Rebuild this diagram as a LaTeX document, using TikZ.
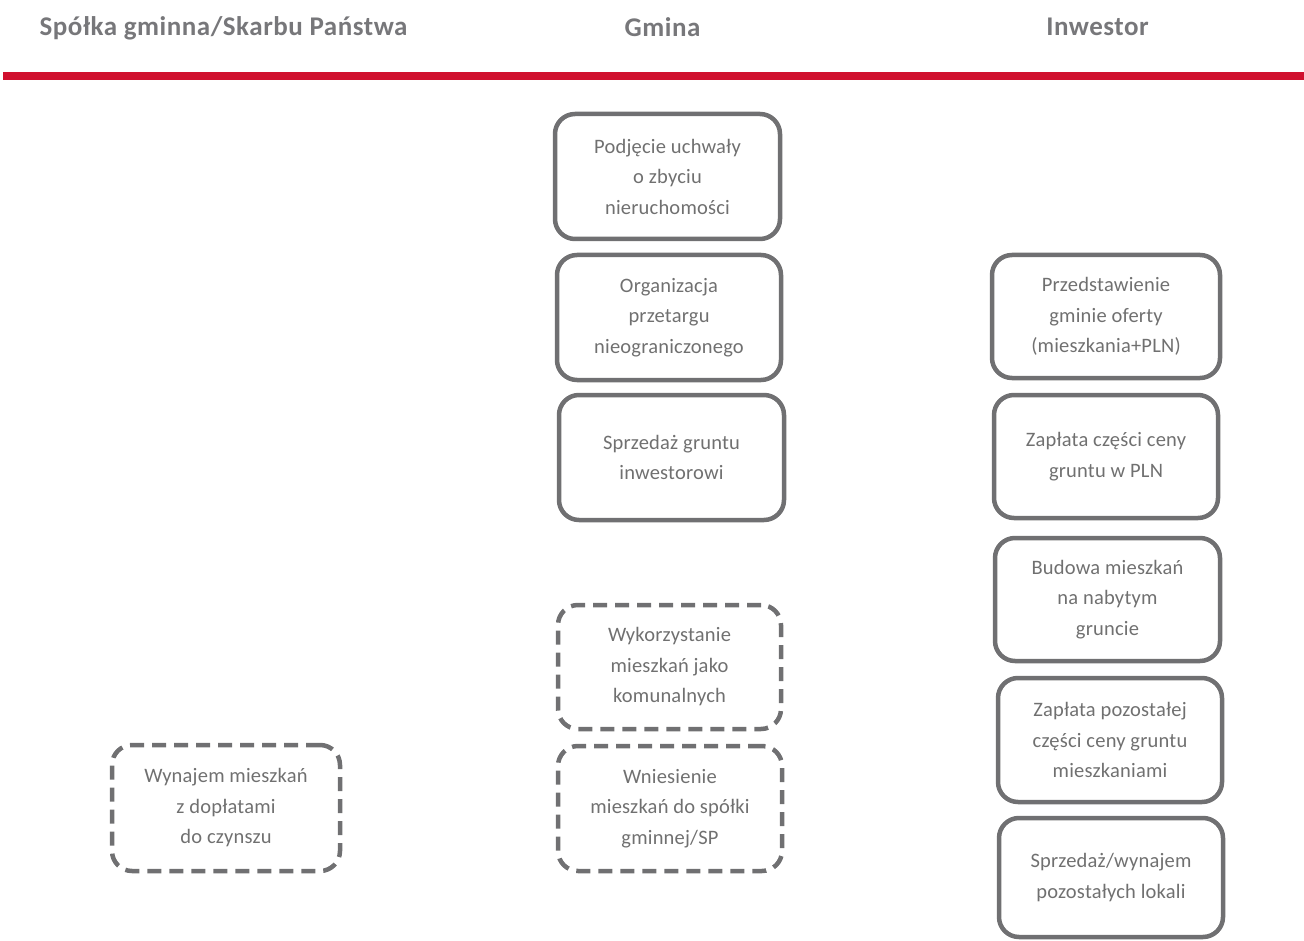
\documentclass[tikz,border=0pt]{standalone}
\usepackage{fontspec}
\setmainfont{Carlito}
\newfontfamily\hdrfont[LetterSpace=2]{Carlito}
\newfontfamily\bodyfont[LetterSpace=1]{Carlito}
\definecolor{hdrgray}{HTML}{77777A}
\definecolor{txtgray}{HTML}{707070}
\definecolor{bordergray}{HTML}{707072}
\definecolor{barred}{HTML}{D0102E}
\tikzset{
  hdr/.style={font=\hdrfont\bfseries\fontsize{27}{30}\selectfont, text=hdrgray, anchor=center, inner sep=0pt},
  stepbox/.style={draw=bordergray, line width=4.5pt, rounded corners=20pt, align=center,
    font=\bodyfont\fontsize{20.5}{30.5}\selectfont, text=txtgray, inner sep=0pt},
  dashbox/.style={stepbox, dash pattern=on 14pt off 8pt},
}
\begin{document}
\begin{tikzpicture}[x=1pt,y=-1pt]
\useasboundingbox (0,0) rectangle (1304,941);
% headers
\node[hdr] (h1) at (223.5,28) {Spółka gminna/Skarbu Państwa};
\node[hdr] (h2) at (662.5,27) {Gmina};
\node[hdr] (h3) at (1097.5,27) {Inwestor};
\coordinate (barL) at (3,76);
\coordinate (barR) at (1304,76);
\draw[barred, line width=8pt] (barL) -- (barR);
% Gmina column
\node[stepbox, minimum width=225pt, minimum height=125pt] (g1) at (667.5,176.5) {Podjęcie uchwały\\o zbyciu\\nieruchomości};
\node[stepbox, minimum width=224pt, minimum height=125pt] (g2) at (669,317.5) {Organizacja\\przetargu\\nieograniczonego};
\node[stepbox, minimum width=225pt, minimum height=125pt] (g3) at (671.5,457.5) {Sprzedaż gruntu\\inwestorowi};
\node[dashbox, minimum width=223pt, minimum height=124pt] (g4) at (669.5,667) {Wykorzystanie\\mieszkań jako\\komunalnych};
\node[dashbox, minimum width=224pt, minimum height=125pt] (g5) at (670,808.5) {Wniesienie\\mieszkań do spółki\\gminnej/SP};
% Inwestor column
\node[stepbox, minimum width=228pt, minimum height=123pt] (i1) at (1106,316.5) {Przedstawienie\\gminie oferty\\(mieszkania+PLN)};
\node[stepbox, minimum width=224pt, minimum height=123pt] (i2) at (1106,456.5) {Zapłata części ceny\\gruntu w PLN};
\node[stepbox, minimum width=225pt, minimum height=123pt] (i3) at (1107.5,599.5) {Budowa mieszkań\\na nabytym\\gruncie};
\node[stepbox, minimum width=224pt, minimum height=124pt] (i4) at (1110,740) {Zapłata pozostałej\\części ceny gruntu\\mieszkaniami};
\node[stepbox, minimum width=224pt, minimum height=119pt] (i5) at (1111,877.5) {Sprzedaż/wynajem\\pozostałych lokali};
% Spółka column
\node[dashbox, minimum width=228pt, minimum height=126pt] (s1) at (226,808) {Wynajem mieszkań\\z dopłatami\\do czynszu};
\end{tikzpicture}
\end{document}
